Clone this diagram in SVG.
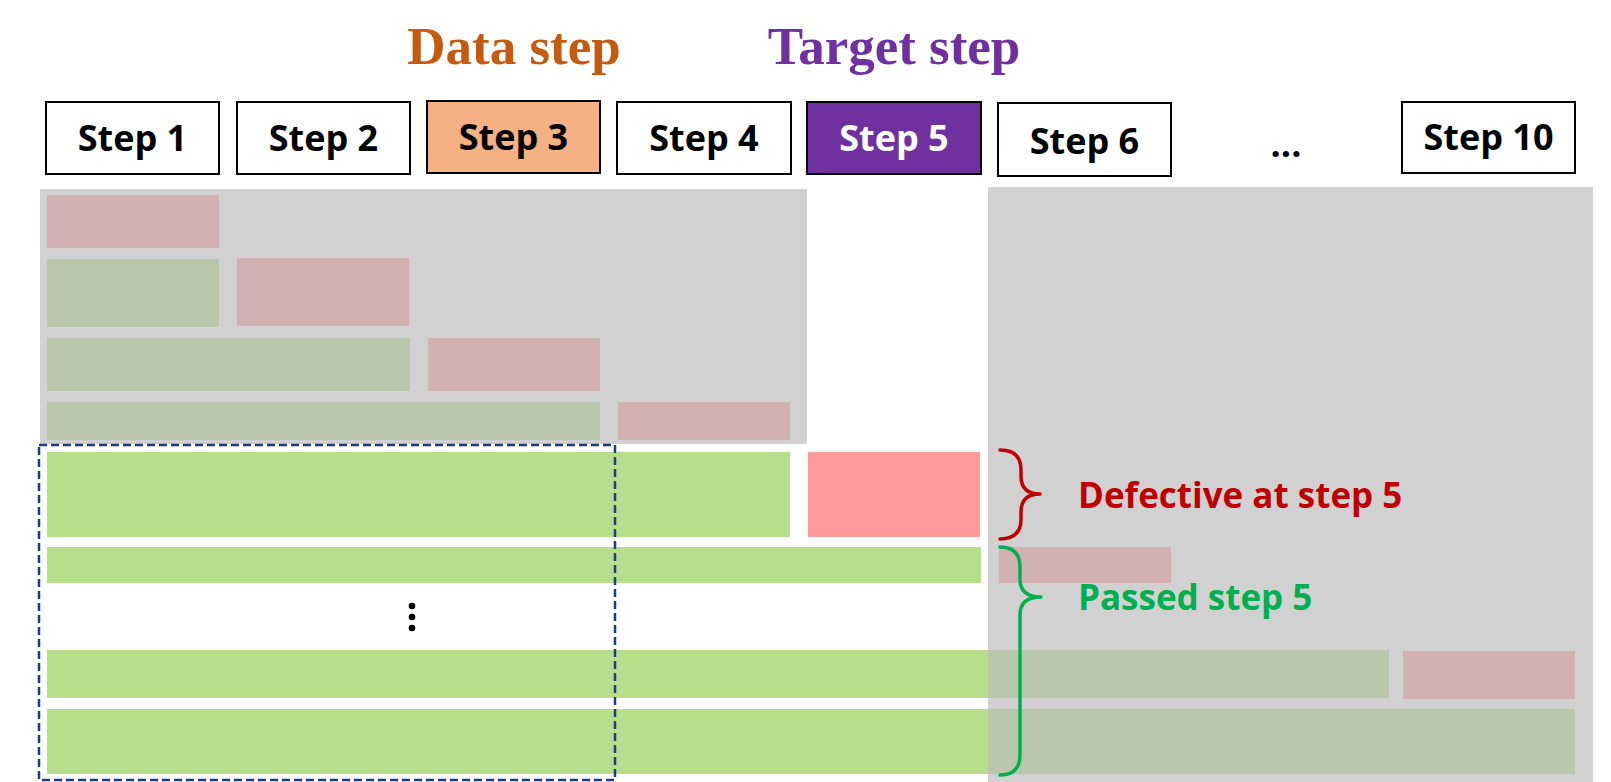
<svg xmlns="http://www.w3.org/2000/svg" width="1611" height="782" viewBox="0 0 1611 782">
  <style>
    .box { fill: #FFFFFF; stroke: #000000; stroke-width: 2; }
    .lbl { font-family: "Open Sans", "Liberation Sans", sans-serif; font-weight: bold; font-size: 36px; fill: #000000; text-anchor: middle; }
    .head { font-family: "Liberation Serif", "Times New Roman", serif; font-weight: bold; font-size: 53px; text-anchor: middle; }
    .note { font-family: "Open Sans", "Liberation Sans", sans-serif; font-weight: bold; font-size: 35px; }
    .ok { fill: #B7DF8B; }
    .bad { fill: #FF9999; }
    .shade { fill: #BDBDBD; fill-opacity: 0.69; }
    .brace { fill: none; stroke-width: 3.5; stroke-linecap: round; stroke-linejoin: round; }
  </style>

  <!-- headings -->
  <text class="head" x="514" y="64" fill="#C55A11">Data step</text>
  <text class="head" x="894" y="64" fill="#7030A0">Target step</text>

  <!-- step header boxes -->
  <g id="step1"><rect class="box" x="46" y="102" width="173" height="72"/><text class="lbl" x="132.5" y="151">Step 1</text></g>
  <g id="step2"><rect class="box" x="237" y="102" width="173" height="72"/><text class="lbl" x="323.5" y="151">Step 2</text></g>
  <g id="step3"><rect class="box" x="427" y="101" width="173" height="72" style="fill:#F4B183"/><text class="lbl" x="513.5" y="150">Step 3</text></g>
  <g id="step4"><rect class="box" x="617" y="102" width="174" height="72"/><text class="lbl" x="704" y="151">Step 4</text></g>
  <g id="step5"><rect class="box" x="807" y="102" width="174" height="72" style="fill:#7030A0"/><text class="lbl" x="894" y="151" style="fill:#FFFFFF">Step 5</text></g>
  <g id="step6"><rect class="box" x="998" y="103" width="173" height="73"/><text class="lbl" x="1084.5" y="154">Step 6</text></g>
  <g id="ellipsis"><text class="lbl" x="1286" y="157">...</text></g>
  <g id="step10"><rect class="box" x="1402" y="102" width="173" height="71"/><text class="lbl" x="1488.5" y="150">Step 10</text></g>

  <!-- run bars -->
  <g id="bars">
    <rect class="bad" x="47" y="195" width="172" height="53"/>
    <rect class="ok" x="47" y="259" width="172" height="68"/>
    <rect class="bad" x="237" y="258" width="172" height="68"/>
    <rect class="ok" x="47" y="338" width="363" height="53"/>
    <rect class="bad" x="428" y="338" width="172" height="53"/>
    <rect class="ok" x="47" y="402" width="553" height="38"/>
    <rect class="bad" x="618" y="402" width="172" height="38"/>
    <rect class="ok" x="47" y="452" width="743" height="85"/>
    <rect class="bad" x="808" y="452" width="172" height="85"/>
    <rect class="ok" x="47" y="547" width="934" height="36"/>
    <rect class="bad" x="999" y="547" width="172" height="36"/>
    <rect class="ok" x="47" y="650" width="1342" height="48"/>
    <rect class="bad" x="1403" y="651" width="172" height="48"/>
    <rect class="ok" x="47" y="709" width="1528" height="65"/>
  </g>

  <!-- shaded regions -->
  <rect class="shade" x="40" y="189" width="767" height="255"/>
  <rect class="shade" x="988" y="187" width="605" height="595"/>

  <!-- data window -->
  <rect x="39" y="445" width="576" height="335" fill="none" stroke="#1F3A86" stroke-width="2.5" stroke-dasharray="8 4"/>
  <g id="vdots" fill="#000000">
    <circle cx="412" cy="606" r="3.3"/>
    <circle cx="412" cy="617" r="3.3"/>
    <circle cx="412" cy="628" r="3.3"/>
  </g>

  <!-- braces -->
  <g id="connectors">
    <path class="brace" stroke="#C00000" d="M1000 450 Q1021 450 1021 470 L1021 476 Q1021 494 1040 494 Q1021 494 1021 512 L1021 519 Q1021 539 1000 539"/>
    <path class="brace" stroke="#00B050" d="M1000 547 Q1020 547 1020 567 L1020 579 Q1020 597 1041 597 Q1020 597 1020 615 L1020 755 Q1020 775 1000 775"/>
  </g>

  <g id="defective"><text class="note" x="1078" y="508" fill="#C00000">Defective at step 5</text></g>
  <g id="passed"><text class="note" x="1078" y="610" fill="#00B050">Passed step 5</text></g>
</svg>
